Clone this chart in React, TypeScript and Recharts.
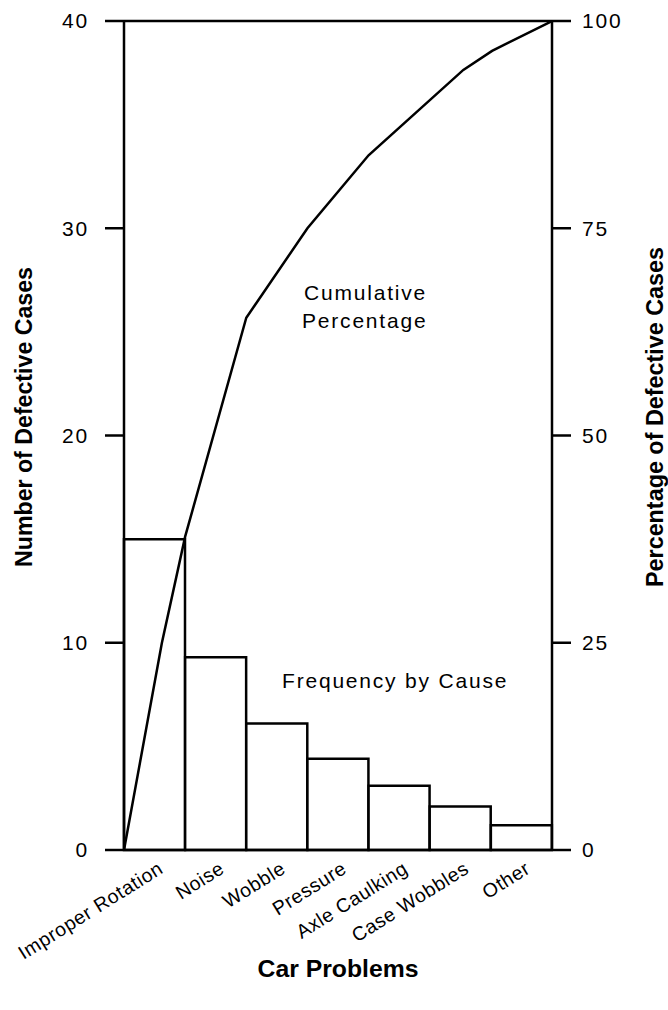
import { ComposedChart, Bar, Line, XAxis, YAxis, ReferenceLine } from "recharts"

const causes = ["Improper Rotation", "Noise", "Wobble", "Pressure", "Axle Caulking", "Case Wobbles", "Other"]
const defectCounts = [15, 9.3, 6.1, 4.4, 3.1, 2.1, 1.2]

// cumulative line vertices: position along the category axis (0..7) and percent
const cumulativePos = [0, 0.62, 1, 2, 3, 4, 5.55, 6.02, 7]
const cumulativePct = [0, 25, 37.8, 64.2, 75, 83.8, 94.1, 96.4, 100]

const countTicks = [0, 10, 20, 30, 40]
const pctTicks = [0, 25, 50, 75, 100]

const barData = causes.map((cause, i) => ({ cause, count: defectCounts[i] }))
const lineData = cumulativePos.map((pos, i) => ({ pos, pct: cumulativePct[i] }))

const FONT = "'Liberation Sans', Arial, Helvetica, sans-serif"
const INK = "#000"
const SW = 2.5

function CauseTick({ x, y, payload }: { x?: number; y?: number; payload?: { value: string } }) {
  if (!payload) return null
  const tx = (x ?? 0) + 10
  const ty = (y ?? 0) + 22
  return (
    <text
      x={tx}
      y={ty}
      textAnchor="end"
      transform={`rotate(-32, ${tx}, ${ty})`}
      fontSize={19.5}
      letterSpacing={0.6}
      fontFamily={FONT}
      fill={INK}
    >
      {payload.value}
    </text>
  )
}

const tickStyle = { fontSize: 21, fill: INK, fontFamily: FONT, letterSpacing: 1.8 }
const noteProps = { fontSize: 21, letterSpacing: 1.8, fontFamily: FONT, fill: INK }
const titleProps = {
  fontSize: 24.5,
  fontWeight: "bold",
  fontFamily: FONT,
  fill: INK,
  textAnchor: "middle" as const,
  dominantBaseline: "central" as const,
  lengthAdjust: "spacingAndGlyphs" as const,
}

export default function App() {
  return (
    <div style={{ position: "absolute", left: 0, top: 0, width: 668, height: 1010, background: "#fff" }}>
      <ComposedChart
        width={668}
        height={1010}
        data={barData}
        margin={{ top: 21, right: 0, bottom: 0, left: 0 }}
        barCategoryGap={0}
        barGap={0}
      >
        <XAxis
          xAxisId="cat"
          dataKey="cause"
          height={160}
          interval={0}
          tickLine={false}
          tickSize={0}
          tickMargin={0}
          axisLine={{ stroke: INK, strokeWidth: SW }}
          tick={<CauseTick />}
        />
        <XAxis xAxisId="pos" type="number" dataKey="pos" domain={[0, 7]} allowDataOverflow hide />
        <YAxis
          yAxisId="left"
          width={124}
          domain={[0, 40]}
          ticks={countTicks}
          interval={0}
          tickSize={19}
          tickMargin={16}
          axisLine={{ stroke: INK, strokeWidth: SW }}
          tickLine={{ stroke: INK, strokeWidth: SW }}
          tick={tickStyle}
        />
        <YAxis
          yAxisId="right"
          orientation="right"
          width={116}
          domain={[0, 100]}
          ticks={pctTicks}
          interval={0}
          tickSize={19}
          tickMargin={11}
          axisLine={{ stroke: INK, strokeWidth: SW }}
          tickLine={{ stroke: INK, strokeWidth: SW }}
          tick={tickStyle}
        />
        <Bar
          xAxisId="cat"
          yAxisId="left"
          dataKey="count"
          fill="#fff"
          stroke={INK}
          strokeWidth={SW}
          isAnimationActive={false}
        />
        <Line
          xAxisId="pos"
          yAxisId="right"
          data={lineData}
          dataKey="pct"
          type="linear"
          stroke={INK}
          strokeWidth={SW}
          dot={false}
          activeDot={false}
          isAnimationActive={false}
        />
        <ReferenceLine xAxisId="cat" yAxisId="left" y={40} stroke={INK} strokeWidth={SW} />

        <text x={304} y={300} {...noteProps}>Cumulative</text>
        <text x={302} y={328} {...noteProps}>Percentage</text>
        <text x={282} y={688} {...noteProps}>Frequency by Cause</text>

        <text x={23} y={417} transform="rotate(-90, 23, 417)" textLength={300} {...titleProps}>
          Number of Defective Cases
        </text>
        <text x={654} y={417} transform="rotate(-90, 654, 417)" textLength={340} {...titleProps}>
          Percentage of Defective Cases
        </text>
        <text x={338} y={968} textLength={161} {...titleProps}>
          Car Problems
        </text>
      </ComposedChart>
    </div>
  )
}
